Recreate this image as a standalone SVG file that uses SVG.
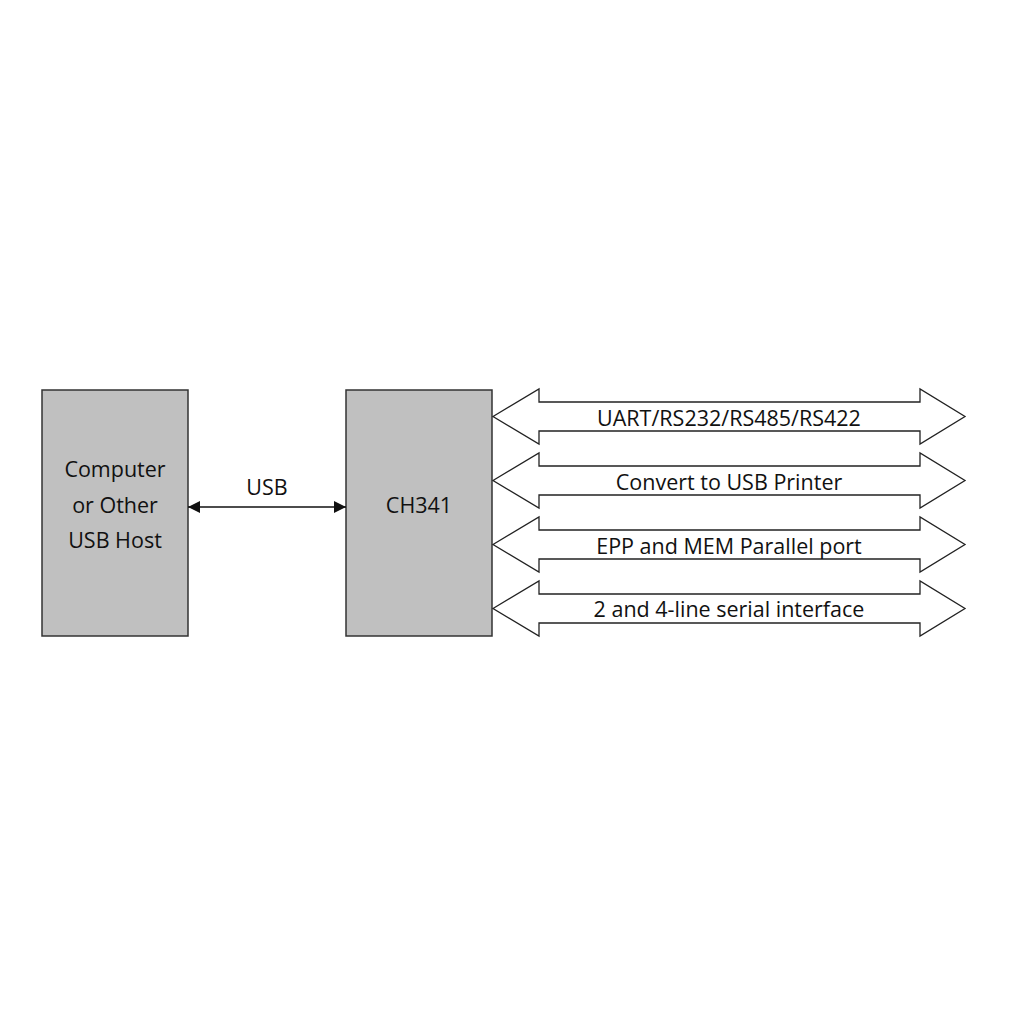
<svg xmlns="http://www.w3.org/2000/svg" width="1024" height="1024" viewBox="0 0 1024 1024">
<defs>
<style>
.box{fill:#c0c0c0;stroke:#333;stroke-width:1.5}
.bus{fill:#fff;stroke:#222;stroke-width:1.3}
.t{font-family:"Open Sans","Noto Sans",sans-serif;font-size:21.5px;fill:#111;text-anchor:middle}
.ln{stroke:#111;stroke-width:1.5;fill:none}
</style>
<marker id="ah" viewBox="0 0 12 12" refX="12" refY="6" markerWidth="12" markerHeight="12" markerUnits="userSpaceOnUse" orient="auto-start-reverse">
<path d="M0,0 L12,6 L0,12 Z" fill="#111"/>
</marker>
</defs>
<rect width="1024" height="1024" fill="#fff"/>
<g id="host">
<rect class="box" x="42" y="390" width="146" height="246"/>
<text class="t" x="115" y="477">Computer</text>
<text class="t" x="115" y="513">or Other</text>
<text class="t" x="115" y="548">USB Host</text>
</g>
<g id="ch341">
<rect class="box" x="346" y="390" width="146" height="246"/>
<text class="t" x="419" y="513">CH341</text>
</g>
<g id="connectors">
<line class="ln" x1="188" y1="507" x2="346" y2="507" marker-start="url(#ah)" marker-end="url(#ah)"/>
<text class="t" x="267" y="495">USB</text>
</g>
<g id="bus-uart">
<path class="bus" d="M493,416.5 L539,389 L539,402 L920,402 L920,389 L965,416.5 L920,444 L920,431 L539,431 L539,444 Z"/>
<text class="t" x="729" y="426">UART/RS232/RS485/RS422</text>
</g>
<g id="bus-printer">
<path class="bus" d="M493,480.5 L539,453 L539,466 L920,466 L920,453 L965,480.5 L920,508 L920,495 L539,495 L539,508 Z"/>
<text class="t" x="729" y="490">Convert to USB Printer</text>
</g>
<g id="bus-parallel">
<path class="bus" d="M493,544.5 L539,517 L539,530 L920,530 L920,517 L965,544.5 L920,572 L920,559 L539,559 L539,572 Z"/>
<text class="t" x="729" y="554">EPP and MEM Parallel port</text>
</g>
<g id="bus-serial">
<path class="bus" d="M493,608.5 L539,581 L539,594 L920,594 L920,581 L965,608.5 L920,636 L920,623 L539,623 L539,636 Z"/>
<text class="t" x="729" y="617">2 and 4-line serial interface</text>
</g>
</svg>
